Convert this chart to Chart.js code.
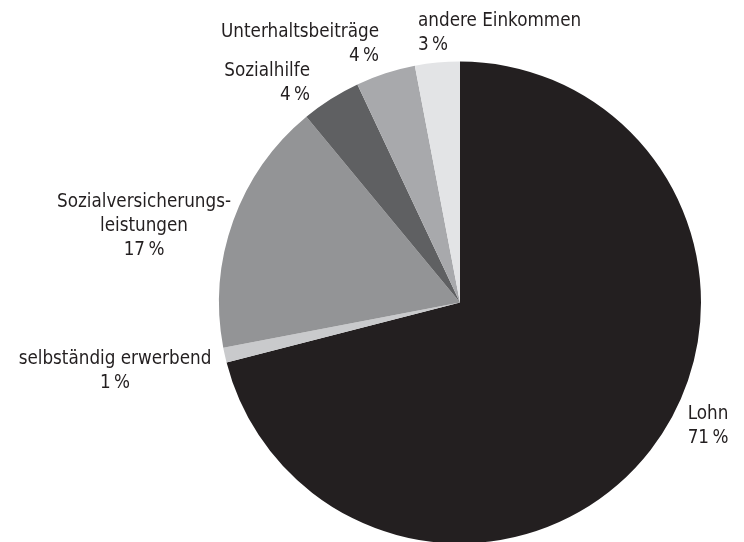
<!DOCTYPE html>
<html>
<head>
<meta charset="utf-8">
<script src="https://cdn.jsdelivr.net/npm/chart.js@4"></script>
<style>
  html, body { margin:0; padding:0; background:#fff; overflow:hidden; }
  #wrap { width:744px; height:560px; position:relative; }
</style>
</head>
<body>
<div id="wrap"><canvas id="chart"></canvas></div>
<script>
// ==== Daten ====
const categories = [
  'Lohn',
  'selbständig erwerbend',
  ['Sozialversicherungs-', 'leistungen'],
  'Sozialhilfe',
  'Unterhaltsbeiträge',
  'andere Einkommen'
];
const shares = [71, 1, 17, 4, 4, 3];
const sliceColors = ['#231f20', '#c9cacc', '#939496', '#5f6062', '#a8a9ac', '#e3e4e6'];

// Beschriftung: Versatz zum Kreismittelpunkt, Ausrichtung
const labelLayout = [
  { dx: 248,  dy: 112,  align: 'center' },
  { dx: -345, dy: 57,   align: 'center' },
  { dx: -316, dy: -100, align: 'center' },
  { dx: -150, dy: -231, align: 'right' },
  { dx: -81,  dy: -270, align: 'right' },
  { dx: -42,  dy: -281, align: 'left' }
];

const FONT = '18.7px "DejaVu Sans Condensed", "DejaVu Sans", sans-serif';
const LINE = 24;

const sliceLabels = {
  id: 'sliceLabels',
  afterDraw(chart){
    const c = chart.ctx;
    const arcs = chart.getDatasetMeta(0).data;
    c.save();
    c.font = FONT;
    c.fillStyle = '#231f20';
    c.textBaseline = 'middle';
    arcs.forEach((arc, i) => {
      const l = labelLayout[i];
      const name = [].concat(categories[i]);
      const lines = name.concat([shares[i] + '\u2009%']);
      c.textAlign = l.align;
      lines.forEach((t, k) => {
        c.fillText(t, arc.x + l.dx, arc.y + l.dy + k * LINE);
      });
    });
    c.restore();
  }
};

const ctx = document.getElementById('chart').getContext('2d');
new Chart(ctx, {
  type: 'pie',
  data: {
    labels: categories,
    datasets: [{
      data: shares,
      backgroundColor: sliceColors,
      borderWidth: 0
    }]
  },
  options: {
    responsive: true,
    maintainAspectRatio: false,
    animation: false,
    layout: { padding: { top: 61, bottom: 16, left: 219, right: 43 } },
    plugins: { legend: { display: false }, tooltip: { enabled: false } }
  },
  plugins: [sliceLabels]
});
</script>
</body>
</html>
